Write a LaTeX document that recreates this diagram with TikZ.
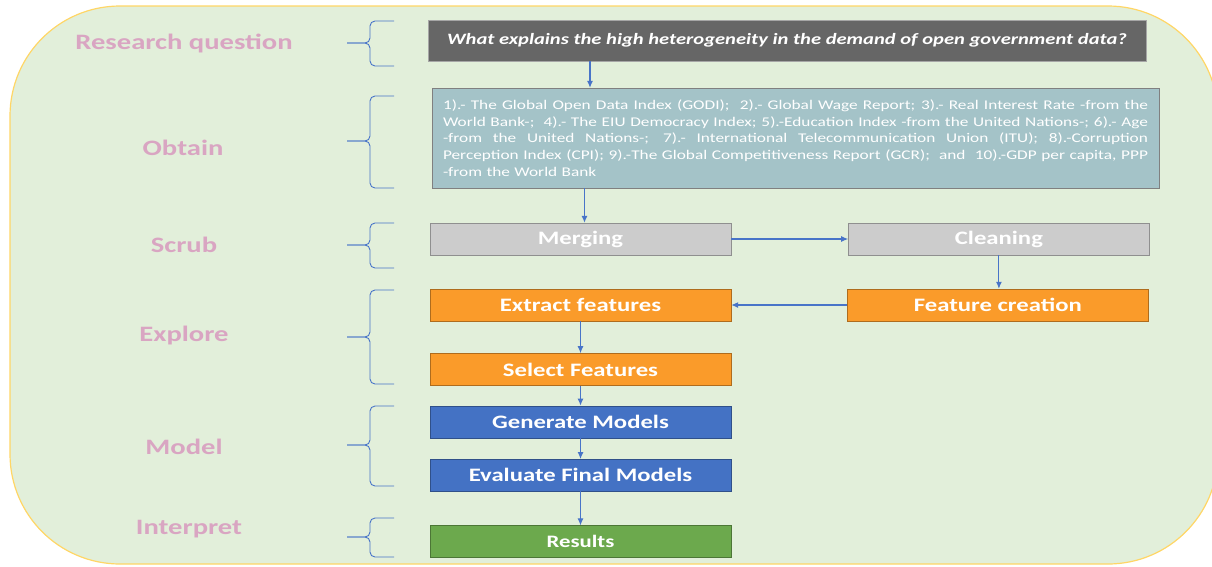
\documentclass[tikz,border=0pt]{standalone}
\usepackage{fontspec}
\setmainfont[FakeStretch=1.3]{Carlito}
\usetikzlibrary{positioning,arrows.meta}
\definecolor{bggreen}{RGB}{226,239,218}
\definecolor{bgline}{RGB}{255,214,102}
\definecolor{phasepink}{RGB}{217,165,194}
\definecolor{qgray}{RGB}{102,102,102}
\definecolor{srcteal}{RGB}{164,195,200}
\definecolor{scrubgray}{RGB}{204,204,204}
\definecolor{featorange}{RGB}{250,155,42}
\definecolor{modelblue}{RGB}{68,114,196}
\definecolor{resgreen}{RGB}{108,169,77}
\definecolor{linkblue}{RGB}{72,116,200}
\newcommand\srcline[1]{\hbox to 705pt{\spaceskip=0.29em plus 1em minus 0.05em\relax #1}}

\begin{document}
\begin{tikzpicture}[x=1pt,y=-1pt,
	phase/.style={text=phasepink,font=\fontsize{22}{26}\selectfont\bfseries},
	stage/.style={draw=#1!70!black,fill=#1,minimum width=301pt,minimum height=32pt,inner sep=0pt,
		text=white,font=\fontsize{19}{22}\selectfont\bfseries},
	flow/.style={draw=linkblue,line width=1.1pt,-{Latex[length=7pt,width=6pt]}},
	curl/.style={draw=linkblue,line width=0.9pt,rounded corners=5pt}]

		\useasboundingbox (0,0) rectangle (1212,566);
		\begin{scope}
			\clip (0,0) rectangle (1212,566);
			\draw[fill=bggreen,draw=bgline,line width=1.2pt,rounded corners=110pt] (10,6) rectangle (1218,564);
		\end{scope}

		% phases
		\node[phase] (rq) at (184,43) {Research question};
		\node[phase] (obtain) at (183,148) {Obtain};
		\node[phase] (scrub) at (184,245) {Scrub};
		\node[phase] (explore) at (184,336) {Explore};
		\node[phase] (model) at (184,447) {Model};
		\node[phase] (interpret) at (189,529) {Interpret};

		\foreach \bt/\bm/\bb in {21/43/66,96/141/188,223/245/268,290/337/384,406/445/486,518/537/557}{
			\draw[curl] (394,\bt) -- (370,\bt) -- (370,\bm) -- (347,\bm);
			\draw[curl] (394,\bb) -- (370,\bb) -- (370,\bm) -- (347,\bm);
		}

		\node[fill=qgray,draw=gray!70,minimum width=718pt,minimum height=41pt,text=white,
			font=\fontsize{15.8}{18}\selectfont\bfseries\itshape] (question) at (787,40.5)
			{What explains the high heterogeneity in the demand of open government data?};

		\node[fill=srcteal,draw=gray,minimum width=727pt,minimum height=100pt,text width=705pt,
			align=left,text=white,font=\fontsize{13.3}{16.8}\selectfont] (sources) at (795.5,138)
			{\srcline{1).- The Global Open Data Index (GODI);\ \ 2).- Global Wage Report; 3).- Real Interest Rate -from the}
			\srcline{World Bank-;\ \ 4).- The EIU Democracy Index; 5).-Education Index -from the United Nations-; 6).- Age}
			\srcline{-from the United Nations-; 7).- International Telecommunication Union (ITU); 8).-Corruption}
			\srcline{Perception Index (CPI); 9).-The Global Competitiveness Report (GCR);\ \ and\ \ 10).-GDP per capita, PPP}
			-from the World Bank};

		\node[stage=scrubgray] (merge) at (580.5,239) {Merging};
		\node[stage=scrubgray,right=117pt of merge] (clean) {Cleaning};
		\node[stage=featorange] (extract) at (580.5,305) {Extract features};
		\node[stage=featorange,right=116pt of extract] (create) {Feature creation};
		\node[stage=featorange,below=32pt of extract] (select) {Select Features};
		\node[stage=modelblue,below=20pt of select] (generate) {Generate Models};
		\node[stage=modelblue,below=21pt of generate] (evaluate) {Evaluate Final Models};
		\node[stage=resgreen,below=34pt of evaluate,font=\fontsize{17.5}{20}\selectfont\bfseries] (results) {Results};

		\draw[flow] ([xshift=-197pt]question.south) -- ([xshift=-197pt]question.south |- sources.north);
		\draw[flow] ([xshift=4pt]merge.north |- sources.south) -- ([xshift=4pt]merge.north);
		\draw[flow] (merge) -- (clean);
		\draw[flow] (clean.south) -- (clean.south |- create.north);
		\draw[flow] (create) -- (extract);
		\draw[flow] (extract) -- (select);
		\draw[flow] (select) -- (generate);
		\draw[flow] (generate) -- (evaluate);
		\draw[flow] (evaluate) -- (results);
	\end{tikzpicture}
\end{document}
